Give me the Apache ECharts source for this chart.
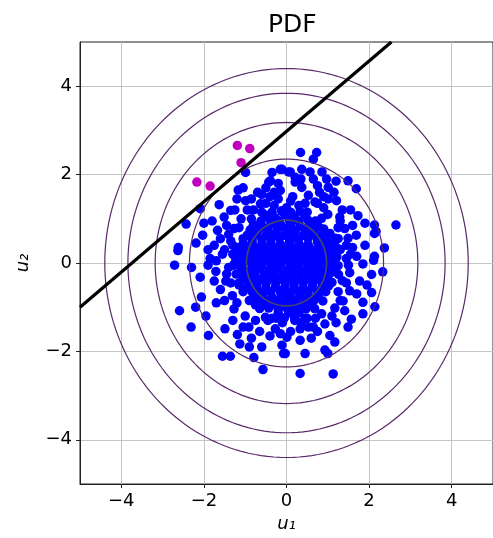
<!DOCTYPE html>
<html style="height: 100%">
<head>
    <meta charset="utf-8">
    <script src="https://cdn.jsdelivr.net/npm/echarts@6/dist/echarts.min.js"></script>
    <title>PDF</title>
</head>
<body style="height: 100%; margin: 0; background: #fff">
<div id="container" style="width: 493px; height: 538px"></div>
<script type="text/javascript">

    // tick positions on both axes
    const tickValues = [-4, -2, 0, 2, 4];

    // radii of the pdf contour circles (levels 1e-1 ... 1e-5)
    const contourRadii = [0.97, 2.35, 3.18, 3.84, 4.40];
    const contourColors = ['#46466a', '#58296b', '#58296b', '#58296b', '#58296b'];

    // decision line end points
    const lineU1 = [-5, 2.54];
    const lineU2 = [-1, 5];

    // points beyond the line
    const magentaPoints = [
        [-1.19, 2.66], [-0.89, 2.59], [-1.10, 2.27], [-2.17, 1.83], [-1.85, 1.74]
    ];

    // dense centre
    const corePoints = [
        [-0.5,1.08],[-0.27,1.02],[-0.05,1.1],[0.2,1.04],[0.44,1.08],
        [-0.8,0.86],[-0.57,0.82],[-0.36,0.88],[-0.12,0.84],[0.1,0.88],[0.33,0.83],[0.56,0.87],[0.78,0.82],
        [-0.95,0.63],[-0.72,0.67],[-0.5,0.62],[-0.28,0.66],[-0.05,0.63],[0.18,0.68],[0.4,0.62],[0.62,0.66],[0.85,0.63],[1.05,0.67],
        [-1.05,0.44],[-0.83,0.47],[-0.6,0.42],[-0.38,0.46],[-0.15,0.43],[0.07,0.47],[0.3,0.44],[0.52,0.42],[0.75,0.47],[0.97,0.43],[1.15,0.46],
        [-1.12,0.24],[-0.9,0.27],[-0.68,0.22],[-0.45,0.26],[-0.22,0.23],[0,0.27],[0.22,0.24],[0.45,0.22],[0.67,0.27],[0.9,0.24],[1.12,0.26],
        [-1.15,0.04],[-0.93,0.07],[-0.7,0.03],[-0.48,0.06],[-0.25,0.02],[-0.03,0.07],[0.2,0.04],[0.42,0.06],[0.65,0.02],[0.88,0.06],[1.1,0.03],
        [-1.1,-0.14],[-0.88,-0.17],[-0.65,-0.13],[-0.42,-0.16],[-0.2,-0.12],[0.03,-0.17],[0.25,-0.14],[0.48,-0.16],[0.7,-0.13],[0.92,-0.17],[1.15,-0.14],
        [-1.05,-0.35],[-0.82,-0.33],[-0.6,-0.37],[-0.37,-0.34],[-0.15,-0.36],[0.08,-0.33],[0.3,-0.37],[0.52,-0.34],[0.75,-0.36],[0.97,-0.33],
        [-0.95,-0.55],[-0.72,-0.53],[-0.5,-0.57],[-0.27,-0.54],[-0.05,-0.56],[0.18,-0.53],[0.4,-0.57],[0.62,-0.54],[0.85,-0.56],[1.02,-0.52],
        [-0.8,-0.75],[-0.58,-0.73],[-0.35,-0.77],[-0.12,-0.74],[0.1,-0.76],[0.33,-0.73],[0.55,-0.77],[0.77,-0.74],
        [-0.55,-0.95],[-0.32,-0.93],[-0.1,-0.97],[0.13,-0.94],[0.35,-0.96],[0.55,-0.93],
        [-0.2,-1.12],[0.05,-1.1],[0.3,-1.13]
    ];

    // second, offset layer of the centre
    const coreFill = [
        [-0.35,1.15],[-0.12,1.18],[0.1,1.15],[0.33,1.17],
        [-0.62,0.95],[-0.4,0.97],[-0.17,0.94],[0.07,0.96],[0.3,0.94],[0.52,0.97],[0.7,0.95],
        [-0.88,0.75],[-0.67,0.76],[-0.45,0.74],[-0.22,0.76],[0.0,0.75],[0.22,0.74],[0.45,0.76],[0.67,0.75],[0.9,0.77],
        [-1.05,0.55],[-0.83,0.56],[-0.6,0.54],[-0.38,0.55],[-0.17,0.56],[0.07,0.55],[0.28,0.54],[0.52,0.56],[0.74,0.55],[0.96,0.54],[1.18,0.56],
        [-1.2,0.35],[-0.98,0.36],[-0.76,0.34],[-0.55,0.35],[-0.33,0.36],[-0.1,0.34],[0.12,0.35],[0.34,0.36],[0.56,0.34],[0.78,0.35],[1.0,0.36],[1.22,0.34],
        [-1.25,0.15],[-1.03,0.16],[-0.8,0.14],[-0.58,0.15],[-0.36,0.16],[-0.14,0.14],[0.1,0.15],[0.32,0.16],[0.55,0.14],[0.77,0.15],[1.0,0.16],[1.22,0.14],
        [-1.28,-0.05],[-1.05,-0.04],[-0.82,-0.06],[-0.6,-0.05],[-0.37,-0.04],[-0.14,-0.06],[0.09,-0.05],[0.31,-0.04],[0.54,-0.06],[0.77,-0.05],[1.0,-0.04],[1.25,-0.06],
        [-1.22,-0.25],[-1.0,-0.24],[-0.77,-0.26],[-0.54,-0.25],[-0.31,-0.24],[-0.09,-0.26],[0.14,-0.25],[0.36,-0.24],[0.6,-0.26],[0.82,-0.25],[1.05,-0.24],[1.26,-0.26],
        [-1.15,-0.45],[-0.93,-0.44],[-0.71,-0.46],[-0.49,-0.45],[-0.26,-0.44],[-0.03,-0.46],[0.19,-0.45],[0.41,-0.44],[0.64,-0.46],[0.87,-0.45],[1.1,-0.44],
        [-1.05,-0.65],[-0.84,-0.64],[-0.61,-0.66],[-0.39,-0.65],[-0.16,-0.64],[0.07,-0.66],[0.29,-0.65],[0.51,-0.64],[0.74,-0.66],[0.95,-0.65],
        [-0.9,-0.85],[-0.68,-0.84],[-0.46,-0.86],[-0.23,-0.85],[0.0,-0.84],[0.22,-0.86],[0.45,-0.85],[0.67,-0.84],[0.88,-0.86],
        [-0.65,-1.03],[-0.43,-1.02],[-0.2,-1.04],[0.02,-1.03],[0.25,-1.02],[0.47,-1.04],[0.68,-1.03],
        [-0.35,-1.25],[-0.05,-1.24],[0.2,-1.26],[0.45,-1.25]
    ];

    // ring around the centre
    const ringPoints = [
        [-1.45,0.85],[-1.25,1.2],[-1.4,0.65],[-1.55,0.2],[-1.45,-0.25],[-1.5,-0.85],[-1.3,-1.3],[-1.05,-1.45],
        [-0.75,-1.3],[-1.2,-0.9],[-1.35,-0.45],[-1.25,0.0],[-1.3,0.4],[-1.15,0.8],[-0.95,1.2],[-0.5,1.35],
        [-0.2,1.45],[0.1,1.4],[0.45,1.35],[0.75,1.35],[1.0,1.1],[1.25,0.8],[1.45,0.4],[1.5,-0.05],
        [1.45,-0.45],[1.3,-0.85],[1.1,-1.2],[0.85,-1.15],[0.5,-1.25],[0.35,-1.35],[-0.25,-1.25],[0.65,-1.45],
        [1.55,0.2],[1.2,-1.35],[-0.85,1.0],[1.2,0.25],[-1.75,0.4],[-1.9,-0.05],[-1.9,0.3],[-2.3,-0.1],
        [-2.0,0.9],[-1.8,0.95],[-1.2,1.45],[0.35,1.9],[0.75,1.75],[-0.35,2.05],[1.2,1.85],[1.9,0.9],
        [1.95,-0.5],[1.7,-0.7],[0.1,-1.55],[-0.15,-1.6],[-0.9,-1.9],[-1.7,-0.9],[-2.2,-1.0],[-1.95,-1.2],
        [-0.85,1.45],[-0.6,1.55],[-1.05,1.7],[-0.3,1.6],[0.9,1.5],[1.55,1.2],[1.6,0.85],[-1.7,0.05]
    ];

    // upper part of the cloud
    const upperPoints = [
        [-0.15,2.12],[0.09,2.06],[0.37,2.12],[0.57,2.06],[0.86,2.06],[-0.39,1.86],[-0.2,1.8],[0.21,1.94],
        [0.65,1.9],[0.97,1.9],[1.49,1.86],[1.69,1.68],[1.01,1.71],[0.37,1.71],[-0.15,1.64],[0.53,1.53],
        [1.01,1.45],[1.21,1.41],[0.69,1.38],[0.15,1.5],[-0.4,1.5],[-0.63,1.34],[-0.99,1.41],[-1.35,1.19],
        [-0.8,1.2],[-0.3,1.3],[0.3,1.3],[0.9,1.25],[1.73,1.07],[1.29,1.04],[0.85,1.01],[1.35,1.2],
        [-1.1,1.0],[-0.6,1.15],[0.0,1.25],[0.5,1.15],[-0.43,1.83],[-0.11,2.12],[0.05,2.06],[0.21,1.83],
        [-0.99,2.05],[-1.17,1.65],[-1.63,1.32],[-2.09,1.23],[-1.51,1.04],[-1.27,0.78],[-1.67,0.74],
        [-2.03,0.63],[-2.19,0.45],[-2.43,0.88],[-2.62,0.35],[0.34,2.5],[0.73,2.5],[0.65,2.35],
        [-0.7,1.6],[-0.5,1.7],[0.8,1.6],[1.15,1.6]
    ];

    // right part of the cloud
    const rightPoints = [
        [2.13,0.86],[2.65,0.86],[2.17,0.71],[1.69,0.63],[1.41,0.78],[2.37,0.34],[2.13,0.15],[1.49,0.56],
        [2.13,0.67],[2.11,0.06],[2.33,-0.2],[2.06,-0.26],[2.06,-0.67],[2.14,-0.99],[1.85,-0.02],[1.77,-0.41],
        [1.53,-0.22],[1.53,-0.63],[1.85,-0.89],[1.85,-1.15],[1.57,-1.27],[1.49,-1.45],[1.17,-1.02],[1.41,-1.08],
        [1.37,-0.86],[1.3,0.3],[1.45,0.1],[1.35,-0.4],[1.6,0.35],[1.25,0.55],[1.9,0.4],[1.7,0.15],[1.25,-0.65],[1.3,0.95]
    ];

    // lower part of the cloud
    const lowerPoints = [
        [0.93,-1.38],[1.05,-1.64],[1.17,-1.79],[0.93,-1.97],[1.0,-2.05],[0.53,-1.45],[0.33,-1.49],[0.33,-1.75],
        [0.45,-2.05],[0.01,-1.68],[-0.11,-1.86],[-0.07,-2.05],[-0.27,-1.49],[0.33,-2.5],[1.13,-2.51],[0.7,-1.25],
        [0.2,-1.3],[-0.1,-1.35],[-0.45,-1.3],[0.6,-1.7],[0.75,-1.55],[-0.4,-1.65],[-0.65,-1.55],[0.15,-1.15]
    ];

    // lower left part of the cloud
    const leftPoints = [
        [-0.91,-1.45],[-0.51,-1.23],[-0.03,-2.05],[-1.27,-1.04],[-1.31,-0.74],[-1.71,-0.19],[-1.75,-0.41],
        [-1.47,-0.41],[-2.09,-0.32],[-2.06,-0.77],[-2.59,-1.08],[-2.31,-1.45],[-1.89,-1.64],[-1.49,-1.49],
        [-1.55,-2.11],[-1.36,-2.11],[-1.19,-1.62],[-1.13,-1.83],[-0.79,-2.14],[-0.57,-2.41],[-1.0,-1.2],
        [-0.75,-0.95],[-1.15,-0.5],[-1.4,-0.1],[-1.3,0.2],[-1.5,0.3],[-1.6,0.55],[-1.35,0.5],[-2.71,-0.05],
        [-2.63,0.28],[-1.85,0.1],[-1.6,-0.6],[-0.85,-1.7],[-0.6,-1.9]
    ];

    const bluePoints = corePoints.concat(coreFill, ringPoints, upperPoints, rightPoints, lowerPoints, leftPoints);

    const font = 'DejaVu Sans';
    const minus = v => String(v).replace('-', '\u2212');

    function valueAxis(name, isX) {
        return {
            type: 'value',
            min: -5,
            max: 5,
            name: name,
            nameLocation: 'middle',
            nameGap: isX ? 31 : 48,
            nameRotate: isX ? 0 : 90,
            nameTextStyle: {fontFamily: font, fontSize: 18, fontStyle: 'italic', color: '#000'},
            axisLine: {onZero: false, lineStyle: {color: '#222', width: 1}},
            axisTick: {show: true, length: 4, customValues: tickValues, lineStyle: {color: '#222'}},
            axisLabel: {
                customValues: tickValues, fontFamily: font, fontSize: 18, color: '#000', margin: 8,
                formatter: minus
            },
            splitLine: {show: true, lineStyle: {color: '#c4c4c4', width: 1}}
        };
    }

    let chart = echarts.init(document.getElementById('container'));
    chart.setOption({
        animation: false,
        backgroundColor: '#fff',
        title: {
            text: 'PDF', left: 263, top: 8,
            textStyle: {fontFamily: font, fontSize: 25, fontWeight: 'normal', color: '#000'}
        },
        grid: {
            left: 80, top: 42, width: 417, height: 447,
            show: true, borderColor: '#222', borderWidth: 1, backgroundColor: 'transparent'
        },
        xAxis: valueAxis('u\u2081', true),
        yAxis: valueAxis('u\u2082', false),
        series: [
            {
                type: 'scatter', data: bluePoints, symbolSize: 9.5,
                itemStyle: {color: '#0000ff', opacity: 1}, z: 2, silent: true
            },
            {
                type: 'scatter', data: magentaPoints, symbolSize: 9.5,
                itemStyle: {color: '#bf00bf', opacity: 1}, z: 2, silent: true
            },
            {
                type: 'custom',
                data: contourRadii.map((r, i) => [0, 0, r, i]),
                encode: {x: 0, y: 1},
                renderItem: function (params, api) {
                    const r = api.value(2);
                    const pts = [];
                    for (let k = 0; k <= 180; k++) {
                        const t = k / 180 * 2 * Math.PI;
                        pts.push(api.coord([r * Math.cos(t), r * Math.sin(t)]));
                    }
                    return {
                        type: 'polyline',
                        shape: {points: pts},
                        style: {stroke: contourColors[api.value(3)], lineWidth: api.value(3) === 0 ? 1.6 : 1.2, fill: null}
                    };
                },
                z: 3, silent: true
            },
            {
                type: 'line',
                data: lineU1.map((x, i) => [x, lineU2[i]]),
                showSymbol: false,
                lineStyle: {color: '#000', width: 3.2},
                z: 4, silent: true
            }
        ]
    });

</script>
</body>
</html>
